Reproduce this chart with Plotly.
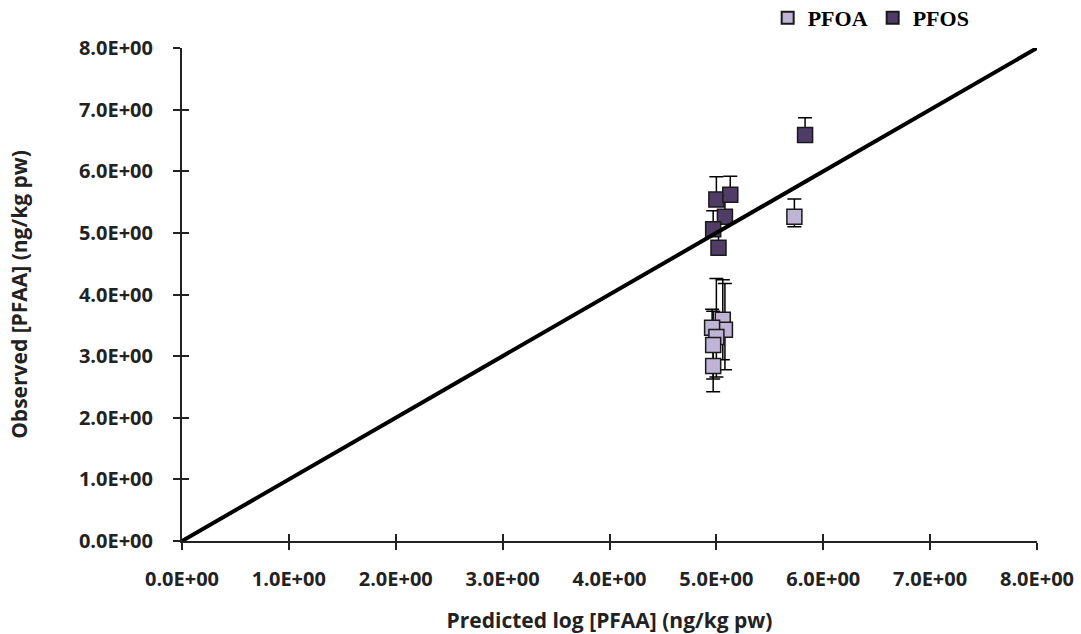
import plotly.graph_objects as go

# ---- data ----
tick_vals = [0, 1, 2, 3, 4, 5, 6, 7, 8]
tick_text = ["0.0E+00", "1.0E+00", "2.0E+00", "3.0E+00", "4.0E+00",
             "5.0E+00", "6.0E+00", "7.0E+00", "8.0E+00"]

pfoa_x = [5.06, 5.08, 4.96, 5.00, 4.97, 4.97, 5.73]
pfoa_y = [3.59, 3.43, 3.46, 3.31, 3.18, 2.84, 5.26]
pfoa_err_plus = [0.65, 0.75, 0.30, 0.95, 0.55, 0.35, 0.29]
pfoa_err_minus = [0.65, 0.65, 0.30, 0.65, 0.55, 0.42, 0.16]

pfos_x = [5.00, 5.13, 5.08, 4.97, 5.02, 5.83]
pfos_y = [5.54, 5.62, 5.26, 5.06, 4.76, 6.59]
pfos_err_plus = [0.37, 0.30, 0.30, 0.30, 0.30, 0.28]
pfos_err_minus = [0.10, 0.10, 0.10, 0.10, 0.10, 0.05]

line_x = [0, 8]
line_y = [0, 8]

PFOA_COLOR = "#bfb3d6"
PFOS_COLOR = "#4f3d68"

fig = go.Figure()

fig.add_trace(go.Scatter(
    x=pfoa_x, y=pfoa_y, mode="markers", name="PFOA",
    marker=dict(symbol="square", size=15, color=PFOA_COLOR,
                line=dict(color="#1a1a1a", width=1.5)),
    error_y=dict(type="data", array=pfoa_err_plus, arrayminus=pfoa_err_minus,
                 color="black", thickness=1.5, width=7),
))
fig.add_trace(go.Scatter(
    x=pfos_x, y=pfos_y, mode="markers", name="PFOS",
    marker=dict(symbol="square", size=15, color=PFOS_COLOR,
                line=dict(color="#1a1a1a", width=1.5)),
    error_y=dict(type="data", array=pfos_err_plus, arrayminus=pfos_err_minus,
                 color="black", thickness=1.5, width=7),
))
fig.add_trace(go.Scatter(
    x=line_x, y=line_y, mode="lines", showlegend=False,
    line=dict(color="black", width=4), hoverinfo="skip",
))

tick_font = dict(family="Open Sans", size=20, color="#222222", weight="bold")
title_font = dict(family="Open Sans", size=21, color="#222222", weight="bold")

fig.update_layout(
    width=1081, height=634,
    margin=dict(l=182, r=44, t=48, b=93, autoexpand=False),
    paper_bgcolor="white", plot_bgcolor="white",
    showlegend=True,
    legend=dict(orientation="h", x=0.685, xanchor="left", y=1.061, yanchor="middle",
                font=dict(family="Liberation Serif", size=22, color="black", weight="bold"),
                itemsizing="constant", itemwidth=30, tracegroupgap=0,
                bgcolor="rgba(0,0,0,0)"),
    xaxis=dict(range=[0, 8], tickvals=tick_vals, ticktext=tick_text,
               showgrid=False, zeroline=False, showline=True, automargin=False,
               linecolor="#222222", linewidth=2,
               ticks="outside", ticklen=7, tickwidth=1.5, tickcolor="#222222",
               tickfont=tick_font, ticklabelstandoff=12,
               title=dict(text="Predicted log [PFAA] (ng/kg pw)",
                          font=title_font, standoff=22)),
    yaxis=dict(range=[0, 8], tickvals=tick_vals, ticktext=tick_text,
               showgrid=False, zeroline=False, showline=True, automargin=False,
               linecolor="#222222", linewidth=2,
               ticks="outside", ticklen=7, tickwidth=1.5, tickcolor="#222222",
               tickfont=tick_font, ticklabelstandoff=16,
               title=dict(text="Observed [PFAA] (ng/kg pw)",
                          font=title_font, standoff=46)),
    xaxis2=dict(overlaying="x", matches="x", range=[0, 8], tickvals=tick_vals,
                side="bottom", anchor="y", showticklabels=False, showgrid=False,
                zeroline=False, showline=False,
                ticks="inside", ticklen=7, tickwidth=1.5, tickcolor="#222222"),
    yaxis2=dict(overlaying="y", matches="y", range=[0, 8], tickvals=tick_vals,
                side="left", anchor="x", showticklabels=False, showgrid=False,
                zeroline=False, showline=False,
                ticks="inside", ticklen=7, tickwidth=1.5, tickcolor="#222222"),
)

# invisible trace to activate the overlay axes (inside tick marks)
fig.add_trace(go.Scatter(x=[None], y=[None], xaxis="x2", yaxis="y2",
                         showlegend=False, hoverinfo="skip"))

fig.write_html("out.html")
